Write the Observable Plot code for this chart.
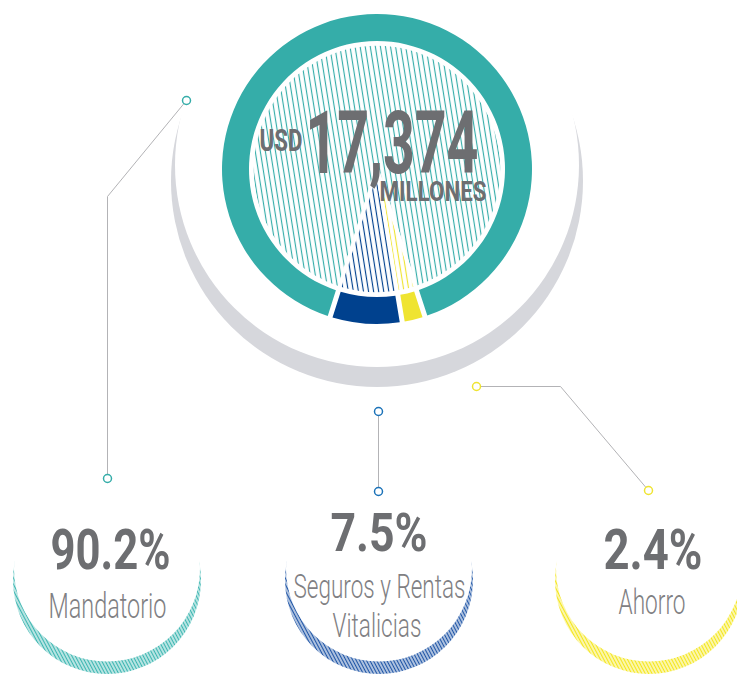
<!DOCTYPE html>
<html>
<head>
<meta charset="utf-8">
<script src="https://cdn.jsdelivr.net/npm/d3@7"></script>
<script src="https://cdn.jsdelivr.net/npm/@observablehq/plot@0.6"></script>
<style>
  html, body { margin: 0; padding: 0; background: #ffffff; }
</style>
</head>
<body>
<div id="chart"></div>
<script>
// ---------------- DATA ----------------
const segments = ["Mandatorio", "Seguros y Rentas\nVitalicias", "Ahorro"];
const shares = [90.2, 7.5, 2.4];
const shareLabels = ["90.2%", "7.5%", "2.4%"];
const currencyLabel = "USD";
const totalLabel = "17,374";
const unitLabel = "MILLONES";

// ---------------- STYLE / LAYOUT ----------------
const segmentColors = ["#35ada9", "#00418e", "#efe431"];
const markerColors = ["#35ada9", "#1b72b8", "#efe431"];
const crescentColors = ["#3cb6b1", "#1f55a6", "#f4e61c"];
const textDark = "#6d6e71";
const textLight = "#7f8083";
const W = 737, H = 677;
const center = {x: 377, y: 169};
const ringOuter = 155, ringInner = 128, discR = 125;
const shadowOuter = {x: 377, y: 181, r: 206};
const shadowInner = {x: 377, y: 165, r: 202};
const startDeg = 522;               // Mandatorio begins here, slices run counter-clockwise
const columns = [107, 379, 649];    // centres of the lower labels
const crescentOuter = {y: 580, r: 94};
const crescentInner = {y: 568.5, r: 93};
const leaderPaths = [
  [[186, 100], [107, 196], [107, 478]],
  [[378, 411], [378, 491]],
  [[476, 386], [560, 386], [648, 490]]
];
// text boxes: left x, baseline y, fitted width, font size
const centerBoxes = [
  {x: 259, y: 150, w: 43, size: 31},
  {x: 305, y: 172, w: 173, size: 88},
  {x: 379, y: 200, w: 107, size: 28}
];
const shareBoxes = [
  {x: 50, y: 568, w: 120, size: 56},
  {x: 330, y: 550, w: 97, size: 54},
  {x: 603, y: 568, w: 99, size: 56}
];
const nameBoxes = [
  [{x: 48, y: 617, w: 118, size: 35}],
  [{x: 293, y: 597, w: 172, size: 33}, {x: 332, y: 636, w: 89, size: 33}],
  [{x: 618, y: 613, w: 67, size: 35}]
];

// ---------------- DERIVED TABLES ----------------
const pieData = segments.map((name, i) => ({name, share: shares[i], i}));
const arcs = d3.pie().sort(null).value(d => d.share)
  .startAngle(startDeg * Math.PI / 180)
  .endAngle((startDeg - 360) * Math.PI / 180)(pieData);

const boldTexts = [
  {text: currencyLabel, ...centerBoxes[0]},
  {text: totalLabel, ...centerBoxes[1]},
  {text: unitLabel, ...centerBoxes[2]},
  ...shareLabels.map((t, i) => ({text: t, ...shareBoxes[i]}))
];
const lightTexts = segments.flatMap((name, i) =>
  name.split("\n").map((line, j) => ({text: line, ...nameBoxes[i][j]})));

const leaderRows = leaderPaths.flatMap((pts, i) => pts.map(([x, y]) => ({x, y, seg: i})));
const markerRows = leaderPaths.flatMap((pts, i) => {
  const first = pts[0], last = pts[pts.length - 1];
  return [{x: first[0], y: first[1], color: markerColors[i]}, {x: last[0], y: last[1], color: markerColors[i]}];
});

// ---------------- CUSTOM SVG MARK HELPER ----------------
function svgMark(build) {
  return (index, scales) => {
    const g = d3.create("svg:g");
    const sx = scales.x, sy = scales.y;
    const k = Math.abs(sx(1) - sx(0));
    build(g, sx, sy, k);
    return g.node();
  };
}

const defsMark = svgMark(g => {
  const defs = g.append("defs");
  segmentColors.forEach((c, i) => {
    const p = defs.append("pattern").attr("id", `disc-hatch-${i}`)
      .attr("patternUnits", "userSpaceOnUse").attr("width", 5).attr("height", 10)
      .attr("patternTransform", "rotate(-9)");
    p.append("line").attr("x1", 2.5).attr("x2", 2.5).attr("y1", -1).attr("y2", 11)
      .attr("stroke", c).attr("stroke-width", 1.15);
  });
  crescentColors.forEach((c, i) => {
    const p = defs.append("pattern").attr("id", `cres-hatch-${i}`)
      .attr("patternUnits", "userSpaceOnUse").attr("width", 3).attr("height", 10)
      .attr("patternTransform", "rotate(-28)");
    p.append("line").attr("x1", 1.5).attr("x2", 1.5).attr("y1", -1).attr("y2", 11)
      .attr("stroke", c).attr("stroke-width", 1.75);
  });
});

const shadowMark = svgMark((g, sx, sy, k) => {
  g.append("circle").attr("cx", sx(shadowOuter.x)).attr("cy", sy(shadowOuter.y)).attr("r", shadowOuter.r * k).attr("fill", "#d6d7dc");
  g.append("circle").attr("cx", sx(shadowInner.x)).attr("cy", sy(shadowInner.y)).attr("r", shadowInner.r * k).attr("fill", "#ffffff");
});

const ringMark = svgMark((g, sx, sy, k) => {
  const arc = d3.arc().innerRadius(ringInner * k).outerRadius(ringOuter * k)
    .padAngle(5 / ringOuter).padRadius(ringOuter * k);
  g.attr("transform", `translate(${sx(center.x)},${sy(center.y)})`);
  g.selectAll("path").data(arcs).join("path")
    .attr("d", arc).attr("fill", d => segmentColors[d.data.i]);
});

const discMark = svgMark((g, sx, sy, k) => {
  const arc = d3.arc().innerRadius(0).outerRadius(discR * k);
  g.attr("transform", `translate(${sx(center.x)},${sy(center.y)})`);
  g.selectAll("path").data(arcs).join("path")
    .attr("d", arc).attr("fill", d => `url(#disc-hatch-${d.data.i})`)
    .attr("stroke", "#ffffff").attr("stroke-width", 3.5).attr("stroke-linejoin", "round");
});

const crescentMark = svgMark((g, sx, sy, k) => {
  columns.forEach((cx, i) => {
    g.append("circle").attr("cx", sx(cx)).attr("cy", sy(crescentOuter.y)).attr("r", crescentOuter.r * k)
      .attr("fill", `url(#cres-hatch-${i})`);
    g.append("circle").attr("cx", sx(cx)).attr("cy", sy(crescentInner.y)).attr("r", crescentInner.r * k)
      .attr("fill", "#ffffff");
  });
});

// ---------------- PLOT ----------------
const chart = Plot.plot({
  width: W,
  height: H,
  margin: 0,
  x: {domain: [0, W], range: [0, W], axis: null},
  y: {domain: [0, H], range: [0, H], axis: null},
  color: {type: "identity"},
  style: {background: "#ffffff", fontFamily: "Roboto, 'DejaVu Sans', sans-serif"},
  marks: [
    defsMark,
    shadowMark,
    ringMark,
    discMark,
    crescentMark,
    Plot.line(leaderRows, {x: "x", y: "y", z: "seg", stroke: "#b3b3b6", strokeWidth: 1, curve: "linear"}),
    Plot.dot(markerRows, {x: "x", y: "y", r: 4, stroke: "color", fill: "#ffffff", strokeWidth: 1.5}),
    Plot.text(boldTexts, {x: "x", y: "y", text: "text", fontSize: "size", textAnchor: "start", lineAnchor: "bottom",
      fill: textDark, fontWeight: 700, fontFamily: "Roboto"}),
    Plot.text(lightTexts, {x: "x", y: "y", text: "text", fontSize: "size", textAnchor: "start", lineAnchor: "bottom",
      fill: textLight, fontWeight: 300, fontFamily: "Roboto"})
  ]
});

document.getElementById("chart").appendChild(chart);

// condense each label horizontally to the width it has in the reference
const fitRows = [...boldTexts, ...lightTexts];
chart.querySelectorAll("text").forEach(t => {
  const row = fitRows.find(r => r.text === t.textContent);
  if (!row) return;
  const natural = t.getComputedTextLength();
  if (!natural) return;
  const s = row.w / natural;
  const tr = t.getAttribute("transform") || "";
  t.setAttribute("transform", `${tr} scale(${s.toFixed(4)},1)`);
});
</script>
</body>
</html>
